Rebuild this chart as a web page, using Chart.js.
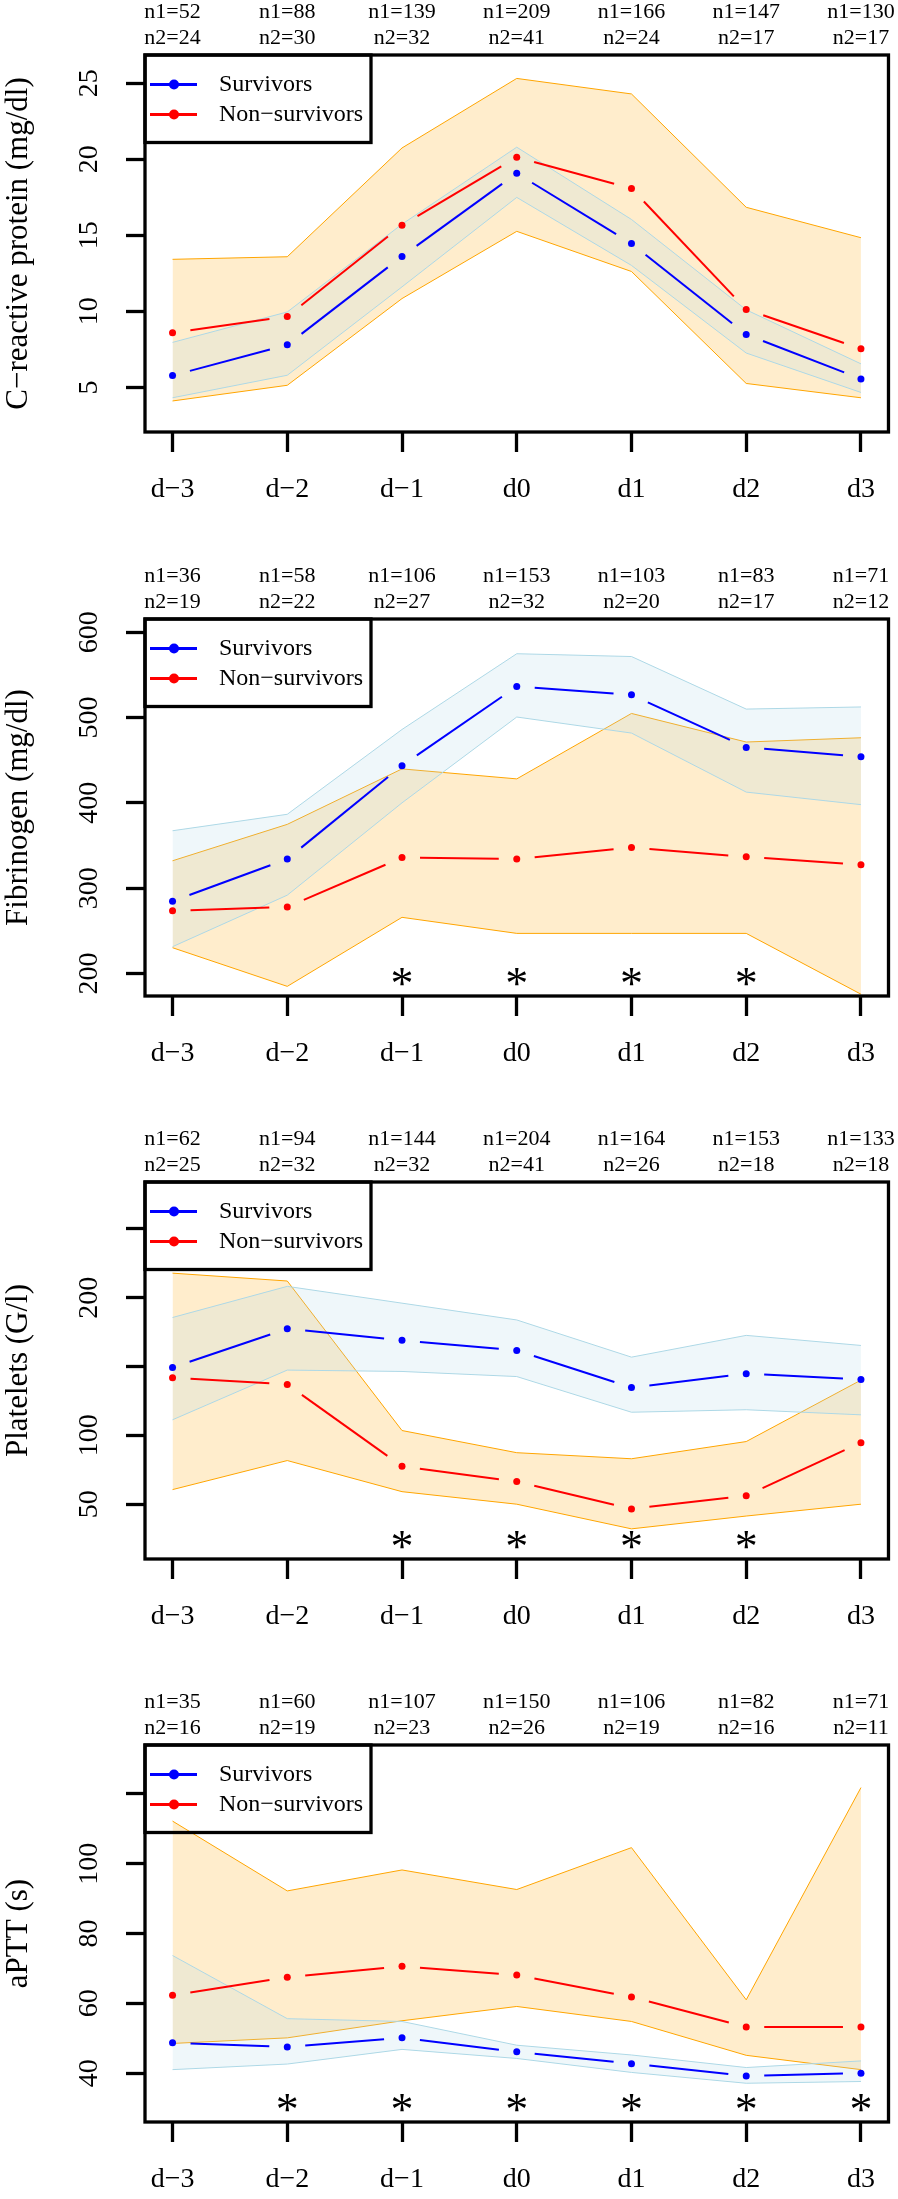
<!DOCTYPE html>
<html>
<head>
<meta charset="utf-8">
<script src="https://cdn.jsdelivr.net/npm/chart.js@4.4.1/dist/chart.umd.min.js"></script>
<style>
  html, body { margin: 0; padding: 0; background: #fff; }
  body { width: 898px; height: 2199px; overflow: hidden; position: relative; }
  .panel { position: absolute; left: 0; width: 898px; height: 520px; }
</style>
</head>
<body>
<div class="panel" style="top:0px"><canvas id="crp" width="898" height="520"></canvas></div>
<div class="panel" style="top:564px"><canvas id="fib" width="898" height="520"></canvas></div>
<div class="panel" style="top:1127px"><canvas id="plt" width="898" height="520"></canvas></div>
<div class="panel" style="top:1690px"><canvas id="aptt" width="898" height="520"></canvas></div>

<script>
// ─────────────────────────────────────────────
//  Data
// ─────────────────────────────────────────────

const days = ['d−3', 'd−2', 'd−1', 'd0', 'd1', 'd2', 'd3'];

// C-reactive protein
const crpN1      = [52, 88, 139, 209, 166, 147, 130];
const crpN2      = [24, 30, 32, 41, 24, 17, 17];
const crpSurv    = [5.78, 7.80, 13.61, 19.07, 14.46, 8.48, 5.56];
const crpSurvLo  = [4.32, 5.80, 11.61, 17.49, 13.02, 7.26, 4.67];
const crpSurvHi  = [7.96, 9.96, 15.73, 20.79, 16.04, 10.10, 6.55];
const crpNon     = [8.60, 9.66, 15.66, 20.13, 18.08, 10.13, 7.54];
const crpNonLo   = [4.11, 5.14, 10.84, 15.26, 12.62, 5.26, 4.32];
const crpNonHi   = [13.42, 13.59, 20.74, 25.31, 24.29, 16.84, 14.84];
const crpSig     = [0, 0, 0, 0, 0, 0, 0];
const crpTicks   = [5, 10, 15, 20, 25];
const crpLabels  = ['5', '10', '15', '20', '25'];

// Fibrinogen
const fibN1      = [36, 58, 106, 153, 103, 83, 71];
const fibN2      = [19, 22, 27, 32, 20, 17, 12];
const fibSurv    = [284.7, 334.2, 443.6, 536.3, 526.6, 465.0, 454.1];
const fibSurvLo  = [231.4, 291.8, 400.0, 500.6, 481.8, 412.6, 397.9];
const fibSurvHi  = [367.3, 386.6, 486.0, 574.8, 571.5, 509.9, 512.4];
const fibNon     = [273.4, 278.0, 335.8, 334.2, 347.6, 336.7, 327.5];
const fibNonLo   = [230.2, 184.9, 265.8, 247.0, 247.0, 247.0, 175.7];
const fibNonHi   = [332.1, 374.8, 439.8, 428.1, 504.8, 471.3, 476.3];
const fibSig     = [0, 0, 1, 1, 1, 1, 0];
const fibTicks   = [200, 300, 400, 500, 600];
const fibLabels  = ['200', '300', '400', '500', '600'];

// Platelets
const pltN1      = [62, 94, 144, 204, 164, 153, 133];
const pltN2      = [25, 32, 32, 41, 26, 18, 18];
const pltSurv    = [149.2, 177.5, 169.0, 161.7, 134.7, 144.8, 140.6];
const pltSurvLo  = [111.3, 147.4, 146.4, 142.7, 116.8, 118.6, 114.9];
const pltSurvHi  = [185.6, 208.2, 196.0, 183.8, 156.8, 172.6, 165.3];
const pltNon     = [141.9, 137.0, 77.5, 66.4, 46.6, 56.2, 94.7];
const pltNonLo   = [60.6, 81.7, 59.1, 50.0, 32.1, 41.4, 50.0];
const pltNonHi   = [217.8, 212.1, 103.5, 87.4, 83.0, 95.5, 140.1];
const pltSig     = [0, 0, 1, 1, 1, 1, 0];
const pltTicks   = [50, 100, 150, 200, 250];
const pltLabels  = ['50', '100', '', '200', ''];

// aPTT
const apttN1     = [35, 60, 107, 150, 106, 82, 71];
const apttN2     = [16, 19, 23, 26, 19, 16, 11];
const apttSurv   = [48.7, 47.5, 50.1, 46.1, 42.7, 39.2, 40.0];
const apttSurvLo = [41.0, 42.6, 46.8, 44.2, 40.2, 37.1, 37.6];
const apttSurvHi = [73.7, 55.6, 54.8, 48.0, 45.2, 41.6, 43.5];
const apttNon    = [62.3, 67.5, 70.6, 68.1, 61.8, 53.2, 53.2];
const apttNonLo  = [48.5, 50.1, 55.0, 59.1, 54.8, 45.1, 41.0];
const apttNonHi  = [112.2, 92.2, 98.2, 92.6, 104.6, 61.0, 121.8];
const apttSig    = [0, 1, 1, 1, 1, 1, 1];
const apttTicks  = [40, 60, 80, 100, 120];
const apttLabels = ['40', '60', '80', '100', ''];

// ─────────────────────────────────────────────
//  Style
// ─────────────────────────────────────────────

const FONT   = "'Liberation Serif', 'Times New Roman', serif";
const GAP    = 18;   // R type="b" gap around points
const FRAME  = 3.3;

Chart.defaults.font.family = FONT;
Chart.defaults.color = '#000';

const toXY = vals => vals.map((v, i) => ({ x: i, y: v }));

// line segments stop short of both points, like R's type="b"
const gapSegment = {
  borderDash: c => {
    const L = Math.hypot(c.p1.x - c.p0.x, c.p1.y - c.p0.y);
    return [0, GAP, Math.max(L - 2 * GAP, 0), GAP];
  }
};

// ─────────────────────────────────────────────
//  Plugins
// ─────────────────────────────────────────────

const frameBox = {
  id: 'frameBox',
  afterDatasetsDraw(chart) {
    const { ctx, chartArea: a } = chart;
    ctx.save();
    ctx.lineWidth = FRAME;
    ctx.strokeStyle = '#000';
    ctx.strokeRect(a.left, a.top, a.right - a.left, a.bottom - a.top);
    ctx.restore();
  }
};

const boxLegend = {
  id: 'boxLegend',
  afterDraw(chart) {
    const { ctx, chartArea: a } = chart;
    const items = chart.data.datasets.filter(d => d.label);
    ctx.save();
    ctx.lineWidth = FRAME;
    ctx.strokeStyle = '#000';
    ctx.strokeRect(a.left, a.top, 226, 87.5);
    items.forEach((d, i) => {
      const y = a.top + 29.5 + i * 30;
      ctx.strokeStyle = d.borderColor;
      ctx.lineWidth = 3;
      ctx.beginPath();
      ctx.moveTo(a.left + 5, y);
      ctx.lineTo(a.left + 52, y);
      ctx.stroke();
      ctx.fillStyle = d.borderColor;
      ctx.beginPath();
      ctx.arc(a.left + 29, y, 5, 0, Math.PI * 2);
      ctx.fill();
      ctx.fillStyle = '#000';
      ctx.font = `24px ${FONT}`;
      ctx.textBaseline = 'middle';
      ctx.textAlign = 'left';
      ctx.fillText(d.label, a.left + 74, y);
    });
    ctx.restore();
  }
};

// y tick labels parallel to the axis (R las=0), placed from the scale's ticks
function rotatedYLabels(labels) {
  return {
    id: 'rotatedYLabels',
    afterDraw(chart) {
      const { ctx, scales: { y } } = chart;
      ctx.save();
      ctx.font = `28px ${FONT}`;
      ctx.fillStyle = '#000';
      ctx.textAlign = 'center';
      ctx.textBaseline = 'middle';
      y.ticks.forEach((t, i) => {
        ctx.save();
        ctx.translate(90, y.getPixelForValue(t.value));
        ctx.rotate(-Math.PI / 2);
        ctx.fillText(labels[i], 0, 0);
        ctx.restore();
      });
      ctx.restore();
    }
  };
}

function sigStars(flags) {
  return {
    id: 'sigStars',
    afterDatasetsDraw(chart) {
      const { ctx, chartArea: a, scales: { x } } = chart;
      ctx.save();
      ctx.font = `46px ${FONT}`;
      ctx.fillStyle = '#000';
      ctx.textAlign = 'center';
      ctx.textBaseline = 'alphabetic';
      const m    = ctx.measureText('*');
      const yc   = a.bottom - 19.5;
      const base = yc + (m.actualBoundingBoxAscent - m.actualBoundingBoxDescent) / 2;
      flags.forEach((f, i) => {
        if (f) ctx.fillText('*', x.getPixelForValue(i), base);
      });
      ctx.restore();
    }
  };
}

// ─────────────────────────────────────────────
//  Panels
// ─────────────────────────────────────────────

function band(vals, line, fillColor, fill) {
  return {
    data: toXY(vals), borderColor: line, backgroundColor: fillColor,
    borderWidth: 1, pointRadius: 0, fill, tension: 0,
  };
}

function median(label, vals, color) {
  return {
    label, data: toXY(vals), borderColor: color, backgroundColor: color,
    borderWidth: 2, pointRadius: 3.5, pointBorderWidth: 0,
    pointBackgroundColor: color, fill: false, tension: 0, segment: gapSegment,
  };
}

function renderPanel(id, p) {
  const dayTicks = s => { s.ticks = days.map((_, i) => ({ value: i })); };

  new Chart(document.getElementById(id), {
    type: 'line',
    data: {
      datasets: [
        { ...band(p.nonHi,  '#FFA500', 'rgba(255,165,0,0.2)',   '+1'), order: 6 },
        { ...band(p.nonLo,  '#FFA500', 'rgba(255,165,0,0.2)',   false), order: 5 },
        { ...band(p.survHi, '#ADD8E6', 'rgba(173,216,230,0.2)', '+1'), order: 4 },
        { ...band(p.survLo, '#ADD8E6', 'rgba(173,216,230,0.2)', false), order: 3 },
        { ...median('Survivors',     p.surv, '#0000FF'), order: 2 },
        { ...median('Non−survivors', p.non,  '#FF0000'), order: 1 },
      ]
    },
    options: {
      responsive: false,
      animation: false,
      events: [],
      layout: { padding: { left: 0, right: 9.5, top: 0, bottom: 0 } },
      plugins: {
        legend:  { display: false },
        tooltip: { enabled: false },
      },
      scales: {
        x: {
          type: 'linear', position: 'bottom', min: -0.24, max: 6.24,
          afterBuildTicks: dayTicks,
          afterFit: s => { s.height = 88; },
          grid:   { drawOnChartArea: false, tickLength: 20, tickWidth: FRAME, tickColor: '#000' },
          border: { display: false },
          ticks:  { autoSkip: false, minRotation: 0, maxRotation: 0, padding: 21,
                    font: { size: 28 }, callback: (v, i) => days[i] },
        },
        xTop: {
          type: 'linear', position: 'top', min: -0.24, max: 6.24,
          afterBuildTicks: dayTicks,
          afterFit: s => { s.height = 55; },
          grid:   { display: false, drawTicks: false },
          border: { display: false },
          ticks:  { autoSkip: false, minRotation: 0, maxRotation: 0, padding: 3,
                    font: { size: 22, lineHeight: 1.21 },
                    callback: (v, i) => [`n1=${p.n1[i]}`, `n2=${p.n2[i]}`] },
        },
        y: {
          type: 'linear', position: 'left', min: p.range[0], max: p.range[1],
          afterBuildTicks: s => { s.ticks = p.ticks.map(v => ({ value: v })); },
          afterFit: s => { s.width = 145; },
          grid:   { drawOnChartArea: false, drawTicks: true, tickLength: 19,
                    tickWidth: FRAME, tickColor: '#000' },
          border: { display: false },
          ticks:  { display: false },
          title:  { display: true, text: p.title, font: { size: 31 }, padding: 0 },
        },
      }
    },
    plugins: [frameBox, sigStars(p.sig), rotatedYLabels(p.labels), boxLegend]
  });
}

renderPanel('crp', {
  title: 'C−reactive protein (mg/dl)', n1: crpN1, n2: crpN2,
  surv: crpSurv, survLo: crpSurvLo, survHi: crpSurvHi,
  non: crpNon, nonLo: crpNonLo, nonHi: crpNonHi,
  sig: crpSig, ticks: crpTicks, labels: crpLabels, range: [2.07, 26.85],
});

renderPanel('fib', {
  title: 'Fibrinogen (mg/dl)', n1: fibN1, n2: fibN2,
  surv: fibSurv, survLo: fibSurvLo, survHi: fibSurvHi,
  non: fibNon, nonLo: fibNonLo, nonHi: fibNonHi,
  sig: fibSig, ticks: fibTicks, labels: fibLabels, range: [173.6, 615.5],
});

renderPanel('plt', {
  title: 'Platelets (G/l)', n1: pltN1, n2: pltN2,
  surv: pltSurv, survLo: pltSurvLo, survHi: pltSurvHi,
  non: pltNon, nonLo: pltNonLo, nonHi: pltNonHi,
  sig: pltSig, ticks: pltTicks, labels: pltLabels, range: [10.2, 284],
});

renderPanel('aptt', {
  title: 'aPTT (s)', n1: apttN1, n2: apttN2,
  surv: apttSurv, survLo: apttSurvLo, survHi: apttSurvHi,
  non: apttNon, nonLo: apttNonLo, nonHi: apttNonHi,
  sig: apttSig, ticks: apttTicks, labels: apttLabels, range: [26.0, 134.0],
});
</script>
</body>
</html>
